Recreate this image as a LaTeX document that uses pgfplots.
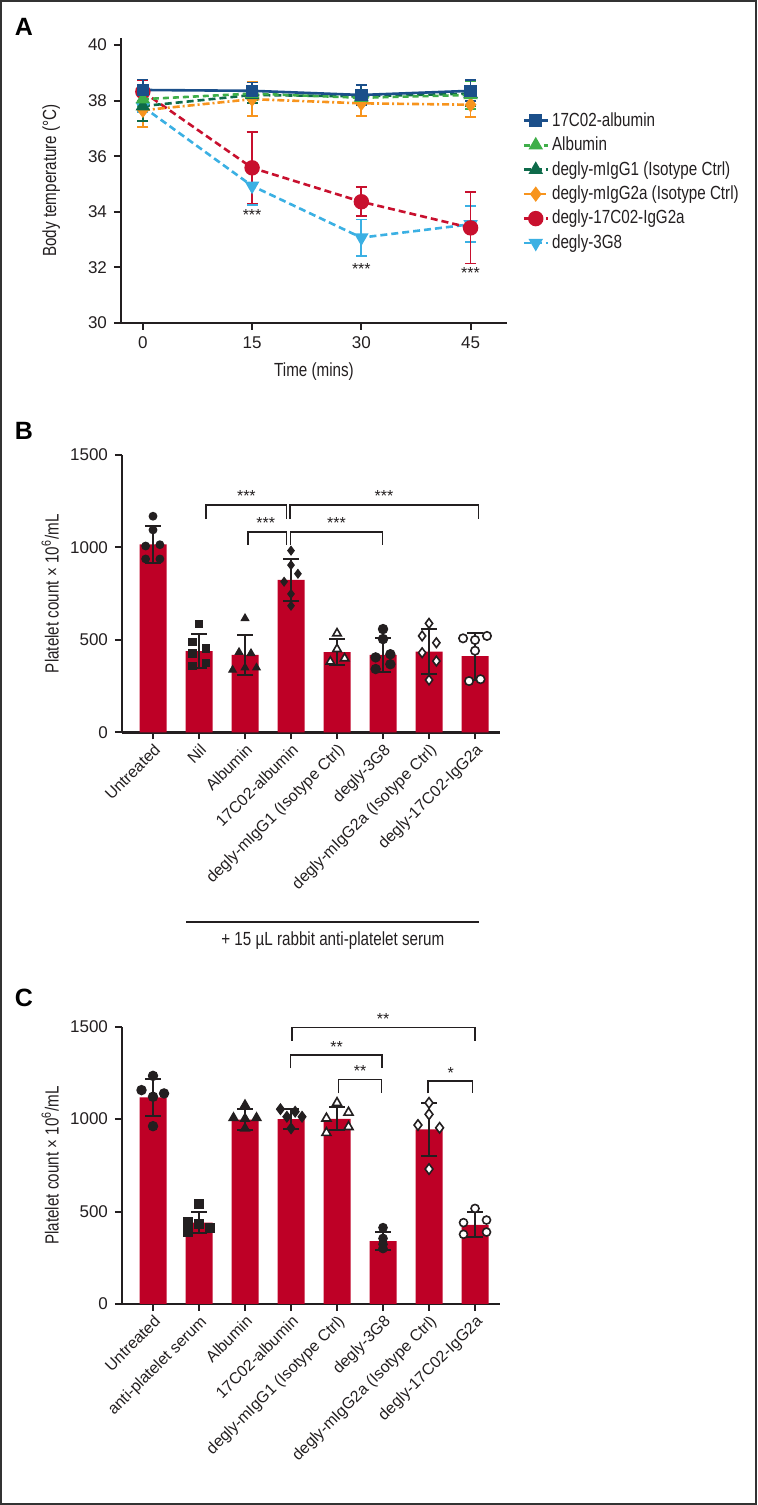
\documentclass[border=0pt]{standalone}
\usepackage{fontspec}
\setmainfont{Liberation Sans}
\newfontfamily\cond[FakeStretch=0.8]{Liberation Sans}
\usepackage{pgfplots}
\pgfplotsset{compat=1.18}
\definecolor{cBlue}{HTML}{1B4F8A}
\definecolor{cLGreen}{HTML}{3FAE49}
\definecolor{cDGreen}{HTML}{0E6B4A}
\definecolor{cOrange}{HTML}{F7941D}
\definecolor{cRed}{HTML}{C8102E}
\definecolor{cCyan}{HTML}{3BB0E3}
\definecolor{barRed}{HTML}{BE0026}
\definecolor{frameGray}{HTML}{333333}
\definecolor{ink}{HTML}{231F20}

\pgfplotsset{
  myaxis/.style={
    scale only axis,
    axis x line*=bottom, axis y line*=left,
    axis line style={-, line width=1.2pt, ink},
    tick align=outside,
    major tick length=3.5pt,
    tick style={line width=1pt, ink},
    /pgf/number format/assume math mode=true,
    /pgf/number format/set thousands separator={},
    ticklabel style={font=\fontsize{8.5}{9}\selectfont, text=ink},
    label style={font=\cond\fontsize{9.5}{10}\selectfont, text=ink},
    clip=false,
  },
  Aerr/.style={error bars/y dir=both, error bars/y explicit,
    error bars/error bar style={solid, line width=0.9pt},
    error bars/error mark options={solid, rotate=90, line width=0.9pt, mark size=2.75pt}},
  Bbar/.style={ybar, bar width=13.5pt, fill=barRed, draw=none,
    error bars/y dir=both, error bars/y explicit,
    error bars/error bar style={draw=ink, line width=1pt},
    error bars/error mark options={draw=ink, rotate=90, line width=1pt, mark size=4pt}},
  pts/.style={only marks, mark=#1, mark options={solid, draw=ink, fill=ink, line width=0.6pt}},
  opts/.style={only marks, mark=#1, mark options={solid, draw=ink, fill=white, line width=0.8pt}},
}
\tikzset{bracket/.style={line width=0.75pt, ink}, star/.style={font=\fontsize{8}{8}\selectfont, text=ink}}
\newcommand{\ltr}{\bfseries\fontsize{12.5}{13}\selectfont}

\begin{document}
\begin{tikzpicture}
\useasboundingbox (0,0) rectangle (378.5pt,752.5pt);
\draw[frameGray, line width=1pt] (0.5pt,0.5pt) rectangle (378pt,752pt);
\node[font=\ltr] at (12pt,739pt) {A};
\node[font=\ltr] at (12pt,537pt) {B};
\node[font=\ltr] at (12pt,253.5pt) {C};

% ---------------- Panel A ----------------
\begin{axis}[myaxis,
  at={(60.5pt,591pt)}, anchor=south west,
  width=193pt, height=142.5pt,
  xmin=-3, xmax=50, ymin=30, ymax=40.25,
  xtick={0,15,30,45}, ytick={30,32,34,36,38,40},
  xlabel={Time (mins)}, ylabel={Body temperature (°C)},
  xlabel style={at={(axis description cs:0.5,-0.172)}, anchor=center},
  ylabel style={at={(axis description cs:-0.181,0.5)}, anchor=center},
  every axis plot/.append style={line width=1.3pt},
  reverse legend,
  legend cell align=left,
  legend style={at={(1.039,0.751)}, anchor=north west, draw=none, fill=none,
    font=\cond\fontsize{9.5}{10}\selectfont, row sep=0.85pt, inner sep=0pt,
    nodes={inner sep=1.5pt, text=ink}},
  legend image code/.code={\draw[mark repeat=2,mark phase=2,#1] plot coordinates {(0pt,0pt) (6pt,0pt) (12pt,0pt)};},
]
\addplot[cCyan, dash pattern=on 3.5pt off 2pt, mark=triangle*, mark size=2.9pt, mark options={solid, rotate=180}, Aerr]
  coordinates {(0,37.78) +- (0,0.2) (15,34.93) +- (0,0.7) (30,33.07) +- (0,0.65) (45,33.55) +- (0,0.65)};
\addlegendentry{degly-3G8}
\addplot[cRed, dash pattern=on 3.5pt off 2pt, mark=*, mark size=3.2pt, mark options={solid}, Aerr]
  coordinates {(0,38.32) +- (0,0.4) (15,35.58) +- (0,1.28) (30,34.36) +- (0,0.52) (45,33.42) +- (0,1.28)};
\addlegendentry{degly-17C02-IgG2a}
\addplot[cOrange, dash pattern=on 3.5pt off 1.5pt on 1pt off 1.5pt, mark=diamond*, mark size=2.8pt, mark options={solid}, Aerr]
  coordinates {(0,37.65) +- (0,0.6) (15,38.05) +- (0,0.62) (30,37.9) +- (0,0.45) (45,37.85) +- (0,0.43)};
\addlegendentry{degly-mIgG2a (Isotype Ctrl)}
\addplot[cDGreen, dash pattern=on 3.5pt off 2pt, mark=triangle*, mark size=2.9pt, mark options={solid}, Aerr]
  coordinates {(0,37.8) +- (0,0.55) (15,38.2) +- (0,0.3) (30,38.15) +- (0,0.25) (45,38.25) +- (0,0.45)};
\addlegendentry{degly-mIgG1 (Isotype Ctrl)}
\addplot[cLGreen, dash pattern=on 3pt off 2pt, mark=triangle*, mark size=2.9pt, mark options={solid}, Aerr]
  coordinates {(0,38.05) +- (0,0.25) (15,38.25) +- (0,0.25) (30,38.1) +- (0,0.2) (45,38.2) +- (0,0.5)};
\addlegendentry{Albumin}
\addplot[cBlue, solid, mark=square*, mark size=2.5pt, Aerr]
  coordinates {(0,38.38) +- (0,0.38) (15,38.35) +- (0,0.3) (30,38.2) +- (0,0.35) (45,38.35) +- (0,0.38)};
\addlegendentry{17C02-albumin}
\node[star] at (axis cs:15,33.9) {***};
\node[star] at (axis cs:30,31.95) {***};
\node[star] at (axis cs:45,31.8) {***};
\end{axis}

% ---------------- Panel B ----------------
\begin{axis}[myaxis,
  at={(61pt,386.25pt)}, anchor=south west,
  width=189pt, height=138.75pt,
  xmin=-0.674, xmax=7.543, ymin=0, ymax=1500,
  ytick={0,500,1000,1500}, xtick={0,1,2,3,4,5,6,7},
  xticklabels={Untreated, Nil, Albumin, 17C02-albumin, degly-mIgG1 (Isotype Ctrl), degly-3G8, degly-mIgG2a (Isotype Ctrl), degly-17C02-IgG2a},
  xticklabel style={rotate=45, anchor=north east, font=\fontsize{8}{9}\selectfont, inner sep=1pt},
  ylabel={Platelet count × 10\textsuperscript{6}/mL},
  ylabel style={at={(axis description cs:-0.19,0.5)}, anchor=center},
]
\addplot[Bbar] coordinates {(0,1017) +- (0,100) (1,440) +- (0,90) (2,420) +- (0,108) (3,825) +- (0,112) (4,435) +- (0,70) (5,419) +- (0,93) (6,437) +- (0,121) (7,413) +- (0,127)};
\addplot[pts={*}, mark size=1.9pt] coordinates {(0,1169) (0,1095) (-0.16,1008) (0.15,1015) (-0.16,938) (0.15,938)};
\addplot[pts={square*}, mark size=1.8pt] coordinates {(1,588) (0.855,488) (1.15,455) (0.855,428) (0.855,358) (1.15,376)};
\addplot[pts={triangle*}, mark size=2.1pt] coordinates {(2,617) (1.87,434) (2.13,428) (2,350) (1.73,338) (2.25,350)};
\addplot[pts={diamond*}, mark size=2.1pt] coordinates {(3,983) (3,905) (3.15,858) (2.85,815) (3,749) (3,685)};
\addplot[opts={triangle*}, mark size=2.4pt] coordinates {(4,536) (4,451) (3.855,383) (4.165,401)};
\addplot[pts={*}, mark size=2.3pt] coordinates {(5,559) (5,505) (4.84,406) (5.16,423) (4.84,343) (5.16,369)};
\addplot[opts={diamond*}, mark size=2.4pt] coordinates {(6,590) (5.85,522) (6.16,485) (5.85,431) (6.16,386) (6,284)};
\addplot[opts={*}, mark size=2.1pt] coordinates {(6.74,509) (7,500) (7.26,522) (7,442) (6.87,278) (7.12,288)};
% significance
\draw[bracket] (axis cs:1.15,1154) |- (axis cs:2.9,1230) -- (axis cs:2.9,1154);
\node[star] at (axis cs:2.03,1278) {***};
\draw[bracket] (axis cs:2.06,1014) |- (axis cs:2.9,1085) -- (axis cs:2.9,1014);
\node[star] at (axis cs:2.45,1130) {***};
\draw[bracket] (axis cs:2.98,1154) |- (axis cs:7.08,1230) -- (axis cs:7.08,1154);
\node[star] at (axis cs:5.02,1278) {***};
\draw[bracket] (axis cs:2.99,1014) |- (axis cs:4.99,1085) -- (axis cs:4.99,1014);
\node[star] at (axis cs:3.99,1130) {***};
% group line
\draw[line width=0.8pt, ink] (axis cs:0.72,-1023) -- (axis cs:7.09,-1023);
\node[font=\cond\fontsize{9.5}{10}\selectfont, text=ink] at (axis cs:3.91,-1127) {+ 15 µL rabbit anti-platelet serum};
\end{axis}

% ---------------- Panel C ----------------
\begin{axis}[myaxis,
  at={(61pt,100.5pt)}, anchor=south west,
  width=189pt, height=138.65pt,
  xmin=-0.674, xmax=7.543, ymin=0, ymax=1500,
  ytick={0,500,1000,1500}, xtick={0,1,2,3,4,5,6,7},
  xticklabels={Untreated, anti-platelet serum, Albumin, 17C02-albumin, degly-mIgG1 (Isotype Ctrl), degly-3G8, degly-mIgG2a (Isotype Ctrl), degly-17C02-IgG2a},
  xticklabel style={rotate=45, anchor=north east, font=\fontsize{8}{9}\selectfont, inner sep=1pt},
  ylabel={Platelet count × 10\textsuperscript{6}/mL},
  ylabel style={at={(axis description cs:-0.19,0.5)}, anchor=center},
]
\addplot[Bbar] coordinates {(0,1118) +- (0,100) (1,440) +- (0,58) (2,998) +- (0,58) (3,1000) +- (0,54) (4,1002) +- (0,63) (5,340) +- (0,50) (6,945) +- (0,143) (7,428) +- (0,68)};
\addplot[pts={*}, mark size=2.3pt] coordinates {(0,1234) (-0.25,1157) (0.24,1139) (0,1121) (0,962)};
\addplot[pts={square*}, mark size=2.1pt] coordinates {(1,541) (0.76,445) (1,432) (1.24,412) (0.76,391)};
\addplot[pts={triangle*}, mark size=2.6pt] coordinates {(2,1076) (1.75,1007) (2.25,1007) (2,1003) (2,950)};
\addplot[pts={diamond*}, mark size=2.6pt] coordinates {(2.77,1054) (3.09,1040) (2.91,1013) (3.24,1013) (3,950)};
\addplot[opts={triangle*}, mark size=2.6pt] coordinates {(4,1088) (4.25,1036) (3.77,1004) (4.25,958) (3.77,926)};
\addplot[pts={*}, mark size=2.1pt] coordinates {(5,413) (5,355) (5,323) (5,300)};
\addplot[opts={diamond*}, mark size=2.6pt] coordinates {(6,1088) (6,1026) (5.76,968) (6.23,953) (6,730)};
\addplot[opts={*}, mark size=2pt] coordinates {(7,517) (6.75,440) (7.25,454) (6.75,377) (7.25,389)};
% significance
\draw[bracket] (axis cs:3.02,1423) |- (axis cs:7.0,1496) -- (axis cs:7.0,1423);
\node[star] at (axis cs:5.0,1540) {**};
\draw[bracket] (axis cs:2.99,1274) |- (axis cs:4.98,1348) -- (axis cs:4.98,1274);
\node[star] at (axis cs:3.99,1392) {**};
\draw[bracket] (axis cs:4.03,1139) |- (axis cs:4.97,1215) -- (axis cs:4.97,1139);
\node[star] at (axis cs:4.5,1260) {**};
\draw[bracket] (axis cs:5.98,1139) |- (axis cs:6.95,1207) -- (axis cs:6.95,1139);
\node[star] at (axis cs:6.47,1252) {*};
\end{axis}
\end{tikzpicture}
\end{document}
